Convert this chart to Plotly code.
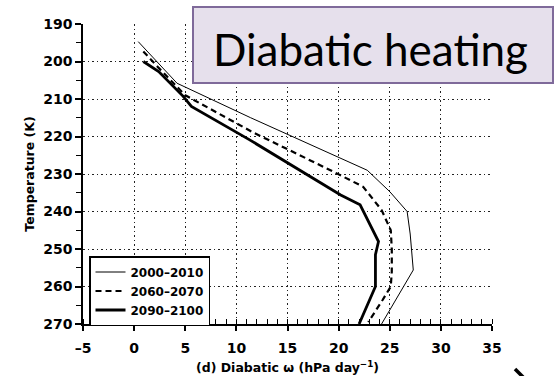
import plotly.graph_objects as go

# Diabatic omega profiles vs temperature, three periods
series_names = ["2000\u20132010", "2060\u20132070", "2090\u20132100"]

t_2000 = [194.7, 205.8, 215.0, 225.8, 229.0, 234.7, 240.0, 246.0, 255.6, 270.0]
w_2000 = [0.4, 4.2, 11.4, 20.2, 22.8, 25.0, 26.7, 27.0, 27.3, 24.2]

t_2060 = [197.3, 201.7, 209.0, 219.0, 229.0, 233.4, 239.6, 245.0, 250.0, 256.0, 260.0, 263.6, 269.5]
w_2060 = [0.9, 2.4, 5.0, 11.7, 19.2, 22.4, 24.2, 25.1, 25.2, 25.2, 25.1, 24.3, 22.9]

t_2090 = [200.0, 202.7, 209.3, 212.0, 220.9, 235.6, 238.2, 248.0, 251.5, 260.0, 270.0]
w_2090 = [0.9, 2.4, 4.8, 5.6, 11.3, 20.2, 22.1, 23.9, 23.6, 23.6, 22.0]

x_ticks = [-5, 0, 5, 10, 15, 20, 25, 30, 35]
y_ticks = [190, 200, 210, 220, 230, 240, 250, 260, 270]

W, H = 554, 376
L, R, T, B = 83, 62, 24, 52

fig = go.Figure()
fig.add_trace(go.Scatter(x=w_2000, y=t_2000, mode="lines", name=series_names[0],
                         line=dict(color="black", width=1)))
fig.add_trace(go.Scatter(x=w_2060, y=t_2060, mode="lines", name=series_names[1],
                         line=dict(color="black", width=2.2, dash="6px,4px")))
fig.add_trace(go.Scatter(x=w_2090, y=t_2090, mode="lines", name=series_names[2],
                         line=dict(color="black", width=2.8)))

tick_font = dict(family="DejaVu Sans", size=14, color="black", weight="bold")
title_font = dict(family="DejaVu Sans", size=12.5, color="black", weight="bold")

fig.update_xaxes(
    range=[-5, 35], tickvals=x_ticks,
    ticktext=[f"{v}" if v >= 0 else f"\u2013{abs(v)}" for v in x_ticks],
    showline=True, linecolor="black", linewidth=1.5, mirror=False,
    ticks="outside", ticklen=5, tickwidth=1.5, tickcolor="black",
    minor=dict(dtick=1, ticks="inside", ticklen=5, tickwidth=1.2, tickcolor="black", showgrid=False),
    showgrid=True, gridcolor="#222", gridwidth=1.4, griddash="1.5px,3px",
    zeroline=False, tickfont=tick_font, ticklabelstandoff=5, automargin=False,
    title=dict(text="(d) Diabatic \u03c9 (hPa day<sup>\u22121</sup>)", font=title_font, standoff=9),
)
fig.update_yaxes(
    range=[270, 190], tickvals=y_ticks,
    showline=True, linecolor="black", linewidth=1.5, mirror=False,
    ticks="outside", ticklen=6, tickwidth=1.5, tickcolor="black",
    minor=dict(dtick=5, ticks="outside", ticklen=5, tickwidth=1.2, tickcolor="black", showgrid=False),
    showgrid=True, gridcolor="#222", gridwidth=1.4, griddash="1.5px,3px",
    zeroline=False, tickfont=tick_font, automargin=False,
    title=dict(text="Temperature (K)", font=title_font, standoff=6),
)

pw, ph = W - L - R, H - T - B


def px_x(p):
    return (p - L) / pw


def px_y(p):
    return (H - B - p) / ph


# Title box
fig.add_shape(type="rect", xref="paper", yref="paper",
              x0=px_x(193), x1=px_x(553), y0=px_y(83), y1=px_y(7),
              fillcolor="#E6E0EC", line=dict(color="#7F6A9A", width=2), layer="above")
fig.add_annotation(xref="paper", yref="paper", x=px_x(370), y=px_y(49),
                   xanchor="center", yanchor="middle",
                   text="Diabatic heating", showarrow=False,
                   font=dict(family="Lato", size=44, color="black"))

# Arrow fragment at the lower right corner
fig.add_shape(type="line", xref="paper", yref="paper",
              x0=px_x(515), y0=px_y(369), x1=px_x(524), y1=px_y(378),
              line=dict(color="black", width=3.5), layer="above")

fig.update_layout(
    width=W, height=H,
    margin=dict(l=L, r=R, t=T, b=B),
    paper_bgcolor="white", plot_bgcolor="white",
    showlegend=True,
    legend=dict(x=px_x(89), y=px_y(256), xanchor="left", yanchor="top",
                bgcolor="white", bordercolor="black", borderwidth=1.5,
                font=dict(family="DejaVu Sans", size=12, color="black", weight="bold"),
                tracegroupgap=0, itemwidth=30),
)

fig.write_html("out.html")
